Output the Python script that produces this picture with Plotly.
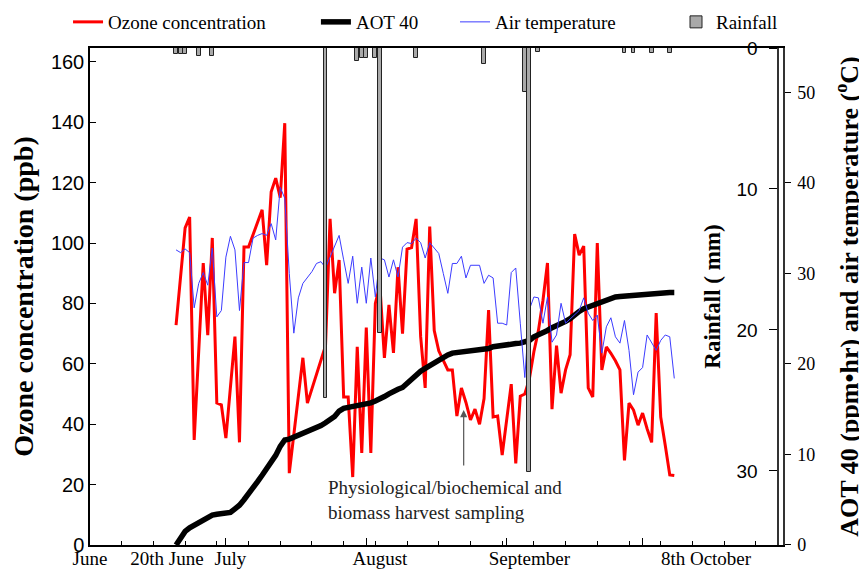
import pandas as pd
import plotly.graph_objects as go

YEAR = "2009"

# ---------------- data ----------------
# Ozone concentration (ppb), irregular daily points
ozone_days = ["06-20", "06-22", "06-23", "06-24", "06-26", "06-27", "06-28", "06-29", "06-30",
              "07-01", "07-03", "07-04", "07-05", "07-06", "07-09", "07-10", "07-11", "07-12",
              "07-13", "07-14", "07-15", "07-18", "07-19", "07-23", "07-24", "07-25", "07-26",
              "07-27", "07-28", "07-29", "07-30", "07-31",
              "08-01", "08-02", "08-03", "08-04", "08-05", "08-06", "08-07", "08-08", "08-09",
              "08-10", "08-11", "08-12", "08-13", "08-14", "08-15", "08-16", "08-17", "08-19",
              "08-20", "08-21", "08-22", "08-23", "08-24", "08-25", "08-26", "08-27", "08-28",
              "08-29", "08-30", "08-31",
              "09-02", "09-03", "09-04", "09-05", "09-06", "09-07", "09-08", "09-09", "09-10",
              "09-11", "09-12", "09-13", "09-14", "09-15", "09-16", "09-17", "09-18", "09-19",
              "09-20", "09-21", "09-22", "09-23", "09-24", "09-25", "09-26", "09-27", "09-28",
              "09-29", "09-30",
              "10-01", "10-02", "10-03", "10-04", "10-05", "10-06", "10-07", "10-08"]
ozone_ppb = [72.8, 105, 108.6, 34.8, 93.4, 69.5, 101.7, 47, 46.4,
             35.4, 69, 34, 98.7, 98.7, 111, 92.7, 117, 121.5,
             115, 139.7, 23.8, 62, 47, 66, 108, 83.4, 94.4,
             49, 49, 22.5, 65.6, 30.5,
             72, 30.5, 80, 86, 62, 79.5, 63.6, 92, 70,
             98, 98.5, 108, 69, 52, 105.5, 71, 64.3, 58,
             58, 42.7, 52, 47.2, 41.4, 45, 40, 48.5, 77.8,
             42.4, 42.7, 29.8,
             53.3, 27, 49.3, 50, 55, 64, 71, 81, 93.4,
             45, 66, 50.3, 58, 63, 103, 96, 99, 52,
             49, 100, 58, 65.6, 63.5, 61, 58, 28, 47,
             44.7, 39.7,
             43.7, 38.5, 34, 76.8, 42.4, 33, 23.2, 23]

# Daily series from 20 June to 8 October
series_start = YEAR + "-06-20"
series_end = YEAR + "-10-08"

temp_jun = [32.6, 32.3, 32.7, 32.3, 26.2, 28.9, 30.1, 28.7, 32.8, 25.2, 25.9]
temp_jul = [31.8, 34.1, 32.6, 25.9, 31.2, 31.2, 33.9, 34.2, 34.4, 34.2, 35.5, 33.7, 39.5, 38.3,
            30.0, 23.4, 27.3, 28.9, 29.6, 30.2, 31.1, 31.3, 30.6, 31.8, 33.0, 34.2, 31.5, 28.9,
            31.9, 26.7, 30.7]
temp_aug = [26.7, 31.7, 27.4, 31.7, 31.5, 29.6, 31.5, 29.6, 32.9, 33.4, 33.3, 33.9, 33.4, 31.7,
            33.4, 32.8, 32.2, 30.0, 27.8, 31.1, 31.1, 31.9, 29.5, 30.9, 30.9, 30.9, 28.9, 29.8,
            29.5, 24.5, 24.5]
temp_sep = [24.3, 30.1, 30.6, 24.5, 18.5, 26.0, 27.4, 27.3, 24.5, 27.4, 22.4, 23.2, 26.7, 24.5,
            25.0, 25.4, 25.9, 27.3, 25.6, 24.8, 25.4, 21.2, 24.1, 25.1, 23.0, 22.3, 24.8, 21.5,
            16.6, 19.1]
temp_oct = [19.6, 23.2, 22.3, 21.5, 22.6, 23.2, 23.0, 18.4]

aot_jun = [0, 0.9, 1.5, 1.9, 2.2, 2.5, 2.8, 3.1, 3.3, 3.4, 3.5]
aot_jul = [3.5, 3.6, 4.0, 4.4, 5.0, 5.6, 6.3, 7.0, 7.7, 8.4, 9.2, 9.9, 10.9, 11.6, 11.7, 11.9,
           12.2, 12.4, 12.5, 12.7, 13.0, 13.2, 13.5, 13.8, 14.2, 14.8, 15.1, 15.2, 15.3, 15.3, 15.4]
aot_aug = [15.5, 15.7, 15.9, 16.1, 16.4, 16.7, 17.0, 17.2, 17.4, 17.9, 18.4, 18.9, 19.2, 19.5,
           19.8, 20.1, 20.4, 20.8, 21.0, 21.2, 21.25, 21.3, 21.35, 21.4, 21.45, 21.5, 21.6, 21.7,
           21.9, 22.0, 22.1]
aot_sep = [22.15, 22.2, 22.25, 22.3, 22.4, 22.6, 23.0, 23.2, 23.5, 23.7, 24.0, 24.2, 24.4, 24.7,
           25.0, 25.5, 25.8, 26.1, 26.3, 26.5, 26.7, 26.8, 27.0, 27.2, 27.4, 27.45, 27.5, 27.5,
           27.55, 27.6]
aot_oct = [27.6, 27.65, 27.7, 27.9, 27.9, 27.9, 27.9, 27.9]

rain_days = ["06-20", "06-21", "06-22", "06-25", "06-28", "07-23", "07-30", "07-31", "08-01",
             "08-03", "08-04", "08-12", "08-27", "09-05", "09-06", "09-08", "09-27", "09-29",
             "10-03", "10-07"]
rain_mm = [0.4, 0.4, 0.4, 0.6, 0.6, 24.8, 0.9, 0.7, 0.7,
           0.7, 20.2, 0.7, 1.1, 3.1, 30.1, 0.3, 0.35, 0.35,
           0.35, 0.35]

x_label_days = ["06-01", "06-18", "07-02", "08-04", "09-06", "10-15"]
x_labels = ["June", "20th June", "July", "August", "September", "8th October"]
month_tick_days = ["07-01", "08-01", "09-01", "10-01"]

ozone_ticks = [0, 20, 40, 60, 80, 100, 120, 140, 160]
aot_ticks = [0, 10, 20, 30, 40, 50]
rain_ticks = [0, 10, 20, 30]

# ---------------- build ----------------
daily = pd.date_range(series_start, series_end, freq="D")
temp_vals = temp_jun + temp_jul + temp_aug + temp_sep + temp_oct
aot_vals = aot_jun + aot_jul + aot_aug + aot_sep + aot_oct

ozone_x = [f"{YEAR}-{d}" for d in ozone_days]
rain_x = [f"{YEAR}-{d}" for d in rain_days]
label_x = [f"{YEAR}-{d}" for d in x_label_days]
month_x = [f"{YEAR}-{d}" for d in month_tick_days]
weekly_x = list(pd.date_range(YEAR + "-06-01", YEAR + "-10-31", freq="7D").strftime("%Y-%m-%d"))
x_range = [YEAR + "-06-01", YEAR + "-11-01"]

SERIF = "Liberation Serif"
SANS = "Liberation Sans"

Y_DOMAIN = [0, 0.9255]

fig = go.Figure()
fig.add_trace(go.Scatter(x=ozone_x, y=ozone_ppb, mode="lines", name="Ozone concentration",
                         line=dict(color="#ff0000", width=3), yaxis="y", legend="legend"))
fig.add_trace(go.Scatter(x=daily, y=aot_vals, mode="lines", name="AOT 40",
                         line=dict(color="black", width=5.5), yaxis="y2", legend="legend2"))
fig.add_trace(go.Scatter(x=daily, y=temp_vals, mode="lines", name="Air temperature",
                         line=dict(color="#3c3cff", width=1), yaxis="y2", legend="legend3"))
fig.add_trace(go.Bar(x=rain_x, y=rain_mm, name="Rainfall", yaxis="y3", legend="legend4",
                     width=0.85 * 86400000, marker=dict(color="#a9a9a9", line=dict(color="#222", width=1))))
# carrier for the x tick labels
fig.add_trace(go.Scatter(x=label_x, y=[None] * len(label_x), xaxis="x2", yaxis="y",
                         showlegend=False, hoverinfo="skip", mode="lines"))

fig.add_annotation(x=YEAR + "-08-22 12:00", y=44.7, ax=YEAR + "-08-22 12:00", ay=25.8,
                   xref="x", yref="y", axref="x", ayref="y", text="", showarrow=True,
                   arrowhead=2, arrowsize=1.2, arrowwidth=1.2, arrowcolor="#555")
fig.add_annotation(x=YEAR + "-07-23", y=14.9, xref="x", yref="y",
                   text="Physiological/biochemical and<br>biomass harvest sampling",
                   showarrow=False, xanchor="left", yanchor="middle", align="left",
                   font=dict(family=SERIF, size=19, color="#222"))

legend_common = dict(font=dict(family=SERIF, size=19, color="black"), bgcolor="rgba(0,0,0,0)",
                     xanchor="left", yanchor="middle", y=0.9739, borderwidth=0)

fig.update_layout(
    width=867, height=579, autosize=False,
    margin=dict(l=82, r=92, t=0, b=42, autoexpand=False),
    paper_bgcolor="white", plot_bgcolor="white",
    bargap=0,
    legend=dict(x=-0.0317, **legend_common),
    legend2=dict(x=0.326, **legend_common),
    legend3=dict(x=0.5267, **legend_common),
    legend4=dict(x=0.8456, **legend_common),
    xaxis=dict(type="date", range=x_range, showgrid=False, zeroline=False,
               showline=True, linecolor="black", linewidth=1.5, mirror=True,
               tickmode="array", tickvals=month_x, ticks="inside", ticklen=7,
               tickcolor="black", tickwidth=1, showticklabels=False,
               minor=dict(tickmode="array", tickvals=weekly_x, ticks="inside", ticklen=4,
                          tickcolor="black", tickwidth=1, showgrid=False)),
    xaxis2=dict(type="date", range=x_range, overlaying="x", anchor="y", side="bottom",
                showgrid=False, zeroline=False, showline=False, ticks="",
                tickmode="array", tickvals=label_x, ticktext=x_labels,
                tickfont=dict(family=SERIF, size=19, color="black")),
    yaxis=dict(domain=Y_DOMAIN, range=[0, 164.6], showgrid=False, zeroline=False, showline=True,
               linecolor="black", linewidth=1.5, ticks="inside", ticklen=6,
               tickcolor="black", tickvals=ozone_ticks,
               tickfont=dict(family=SANS, size=20, color="black"),
               title=dict(text="<b>Ozone concentration (ppb)</b>", standoff=31,
                          font=dict(family=SERIF, size=28, color="black"))),
    yaxis2=dict(domain=Y_DOMAIN, range=[0, 54.9], overlaying="y", side="right", anchor="x",
                showgrid=False, zeroline=False, showline=True, linecolor="#333", linewidth=1.5,
                ticks="outside", ticklen=6, tickcolor="black", tickvals=aot_ticks,
                ticklabelstandoff=3,
                tickfont=dict(family=SERIF, size=18, color="black"),
                title=dict(text="<b>AOT 40 (ppm\u2022hr) and air temperature (<sup>o</sup>C)</b>",
                           standoff=25, font=dict(family=SERIF, size=26, color="black"))),
    yaxis3=dict(domain=Y_DOMAIN, range=[35.25, 0], overlaying="y", side="left", anchor="free",
                position=0.993,
                showgrid=False, zeroline=False, showline=True, linecolor="#333", linewidth=1.5,
                ticks="outside", ticklen=8, tickcolor="black", tickvals=rain_ticks,
                ticklabelstandoff=8,
                tickfont=dict(family=SANS, size=19, color="black"),
                title=dict(text="<b>Rainfall ( mm)</b>", standoff=8,
                           font=dict(family=SERIF, size=23, color="black"))),
)

fig.write_html("out.html")
